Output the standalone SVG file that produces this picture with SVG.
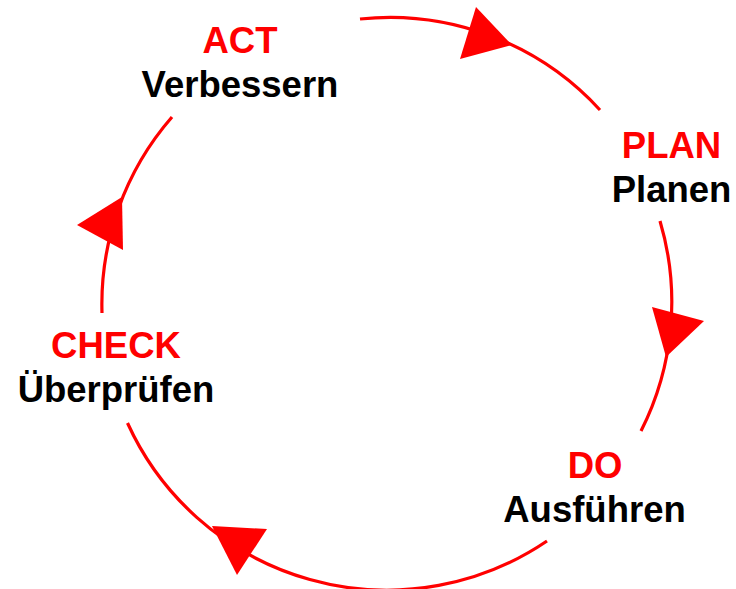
<svg xmlns="http://www.w3.org/2000/svg" width="736" height="589" viewBox="0 0 736 589">
<style>
.arc{fill:none;stroke:#FF0000;stroke-width:3.2}
.head{fill:#FF0000;stroke:none}
.t{font-family:"Liberation Sans",Arial,sans-serif;font-weight:bold;font-size:36.5px;text-anchor:middle}
.red{fill:#FF0000}
.blk{fill:#000000}
</style>
<rect width="736" height="589" fill="#FFFFFF"/>
<g id="connectors">
<path class="arc" d="M 360 19 A 285 285 0 0 1 600 110"/>
<polygon class="head" points="476,7 460,59 512,45"/>
<path class="arc" d="M 660 221 A 285 285 0 0 1 641 431"/>
<polygon class="head" points="652,307 704,321 666,357"/>
<path class="arc" d="M 547 541 A 285 285 0 0 1 127.5 423"/>
<polygon class="head" points="267,529 237,575 212,526"/>
<path class="arc" d="M 102 313 A 285 285 0 0 1 172 117"/>
<polygon class="head" points="77,225 123,250 122,197"/>
</g>
<g id="act">
<text class="t red" x="240" y="52.5">ACT</text>
<text class="t blk" x="240" y="96.5">Verbessern</text>
</g>
<g id="plan">
<text class="t red" x="671.5" y="157.5">PLAN</text>
<text class="t blk" x="671.5" y="201.5">Planen</text>
</g>
<g id="do">
<text class="t red" x="595" y="477.5">DO</text>
<text class="t blk" x="594.5" y="521.5">Ausführen</text>
</g>
<g id="check">
<text class="t red" x="116" y="357.5">CHECK</text>
<text class="t blk" x="116" y="401.5">Überprüfen</text>
</g>
</svg>
